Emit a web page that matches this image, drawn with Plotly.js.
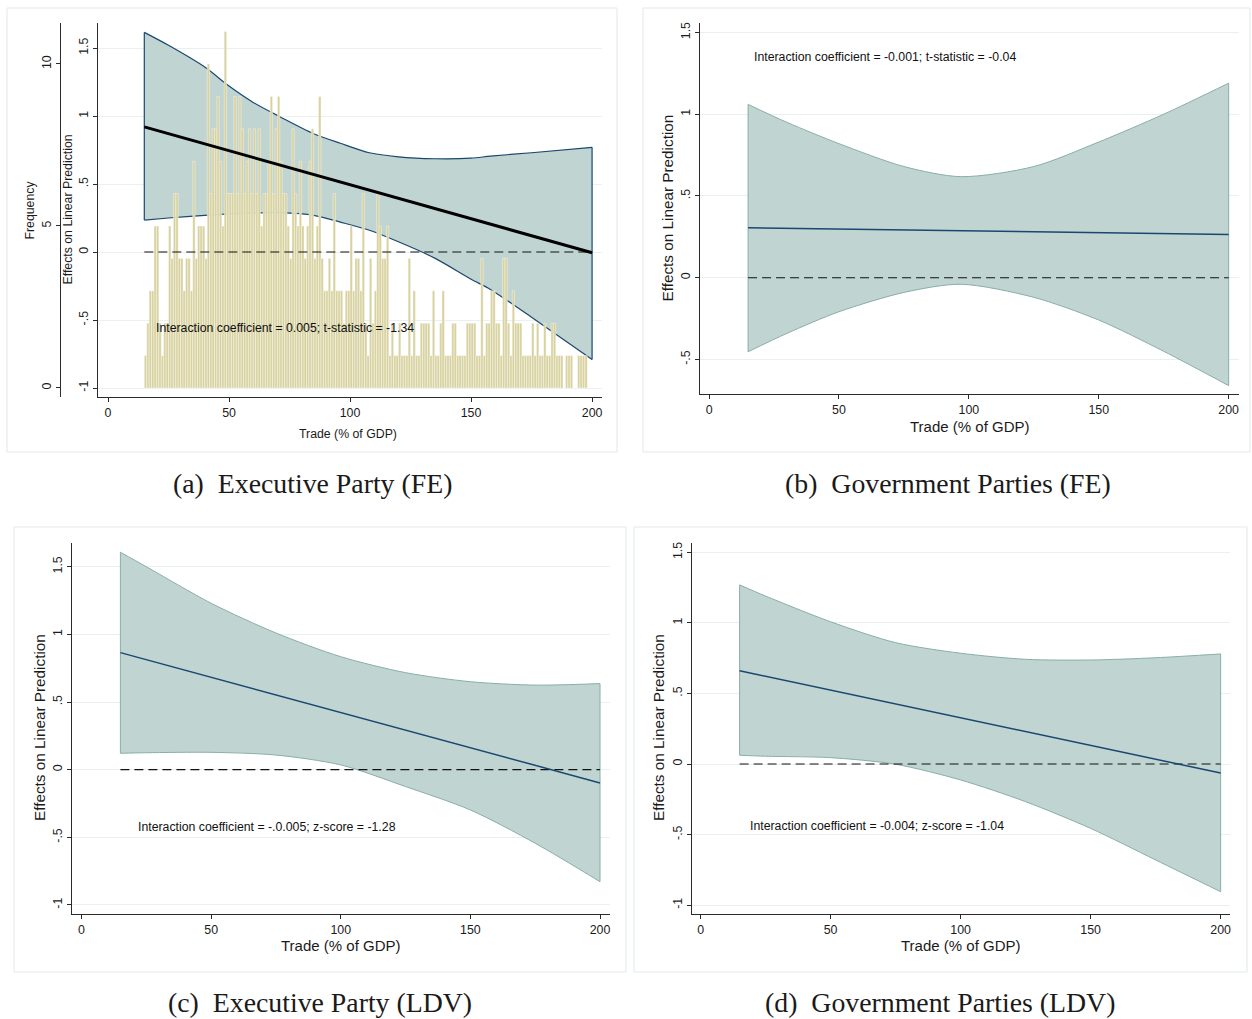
<!DOCTYPE html>
<html>
<head>
<meta charset="utf-8">
<script src="https://cdn.plot.ly/plotly-3.0.1.min.js"></script>
<style>html,body{margin:0;padding:0;background:#fff;}#chart{width:1252px;height:1019px;}</style>
</head>
<body>
<div id="chart"></div>
<script>
// ---------------- DATA ----------------
const xTickVals = [0, 50, 100, 150, 200];
const xTickText = ['0', '50', '100', '150', '200'];
const yTickVals = [-1, -0.5, 0, 0.5, 1, 1.5];
const yTickText = ['-1', '-.5', '0', '.5', '1', '1.5'];
const freqTickVals = [0, 5, 10];
const freqTickText = ['0', '5', '10'];

// Panel (a): Executive Party (FE)
const bandXA = [15, 25, 40, 50, 60, 71, 85, 96, 108, 120, 135, 150, 158, 175, 200];
const upperA = [1.615, 1.52, 1.36, 1.22, 1.10, 0.995, 0.87, 0.80, 0.73, 0.70, 0.686, 0.69, 0.705, 0.73, 0.77];
const lowerA = [0.235, 0.25, 0.27, 0.28, 0.287, 0.289, 0.27, 0.22, 0.16, 0.075, -0.045, -0.20, -0.275, -0.48, -0.79];
const lineXA = [15, 200];
const lineYA = [0.92, -0.005];
const noteA = 'Interaction coefficient = 0.005; t-statistic = -1.34';

// histogram of Trade (% of GDP): bin left edges (width 1) and frequencies
const histBinStart = [15,16,17,18,19,20,21,22,23,24,25,26,27,28,29,30,31,32,33,34,35,36,37,38,39,40,41,42,43,44,
45,46,47,48,49,50,51,52,53,54,55,56,57,58,59,60,61,62,63,64,65,66,67,68,69,70,71,72,73,74,
75,76,77,78,79,80,81,82,83,84,85,86,87,88,89,90,91,92,93,94,95,96,97,98,99,100,101,102,103,104,
105,106,107,108,109,110,111,112,113,114,115,116,117,118,119,120,121,122,123,124,125,126,127,128,129,130,131,132,133,134,
135,136,137,138,139,140,141,142,143,144,145,146,147,148,149,150,151,152,153,154,155,156,157,158,159,160,161,162,163,164,
165,166,167,168,169,170,171,172,173,174,175,176,177,178,179,180,181,182,183,184,185,186,187,188,189,190,191,192,193,194,
195,196,197];
const histFreq = [1,2,3,3,5,5,2,1,2,2, 5,4,6,6,4,4,3,4,4,3, 7,4,5,5,5,4,10,6,8,8,
9,7,5,11,6,6,6,9,6,9, 8,6,7,8,6,8,6,8,5,6, 6,7,9,6,8,9,7,6,6,5,
4,8,6,5,7,5,4,5,7,8, 4,5,9,4,3,3,4,3,6,3, 3,3,2,3,3,5,3,4,4,3,
6,2,1,4,2,3,6,5,4,4, 5,1,2,1,1,2,1,1,1,4, 1,3,1,1,2,2,2,2,1,3,
1,1,2,3,1,1,1,2,2,1, 1,1,1,2,2,2,2,1,1,4, 1,2,2,3,3,2,2,1,4,4,
2,1,3,2,2,2,1,1,1,1, 2,1,2,1,1,2,1,1,2,2, 1,1,1,0,1,1,1,0,0,1,
1,1,1];

// Panel (b): Government Parties (FE)
const bandXB = [15, 30, 50, 75, 97, 125, 150, 175, 200];
const upperB = [1.06, 0.95, 0.82, 0.68, 0.618, 0.68, 0.83, 1.00, 1.19];
const lowerB = [-0.453, -0.34, -0.208, -0.09, -0.04, -0.12, -0.259, -0.45, -0.66];
const lineXB = [15, 200];
const lineYB = [0.305, 0.265];
const noteB = 'Interaction coefficient = -0.001; t-statistic = -0.04';

// Panel (c): Executive Party (LDV)
const bandXC = [15, 25, 50, 75, 100, 125, 150, 175, 200];
const upperC = [1.607, 1.50, 1.23, 1.01, 0.835, 0.717, 0.65, 0.625, 0.636];
const lowerC = [0.121, 0.125, 0.128, 0.108, 0.035, -0.125, -0.298, -0.544, -0.828];
const lineXC = [15, 200];
const lineYC = [0.865, -0.098];
const noteC = 'Interaction coefficient = -.0.005; z-score = -1.28';

// Panel (d): Government Parties (LDV)
const bandXD = [15, 25, 50, 75, 100, 125, 150, 175, 200];
const upperD = [1.269, 1.19, 1.008, 0.86, 0.785, 0.742, 0.737, 0.753, 0.78];
const lowerD = [0.062, 0.055, 0.045, -0.002, -0.113, -0.267, -0.456, -0.68, -0.905];
const lineXD = [15, 200];
const lineYD = [0.661, -0.064];
const noteD = 'Interaction coefficient = -0.004; z-score = -1.04';

const refX = [15, 200];
const refY = [0, 0];

const captions = ['(a)\u00a0 Executive Party (FE)', '(b)\u00a0 Government Parties (FE)',
                  '(c)\u00a0 Executive Party (LDV)', '(d)\u00a0 Government Parties (LDV)'];
const xTitle = 'Trade (% of GDP)';
const yTitle = 'Effects on Linear Prediction';
const freqTitle = 'Frequency';

// ---------------- STYLE ----------------
const W = 1252, H = 1019;
const px = v => v / W;
const py = v => 1 - v / H;
const FONT = 'Liberation Sans, Arial, Helvetica, sans-serif';
const SERIF = 'Liberation Serif, Times New Roman, serif';
const BAND_FILL = 'rgb(192,212,210)';
const NAVY = 'rgb(26,71,111)';
const TEAL_EDGE = 'rgb(136,174,167)';
const HIST = 'rgb(216,210,160)';
const AXC = '#2b2b2b';
const GRID = 'rgb(232,240,242)';

function bandTraces(xs, up, lo, xa, ya, edge, edgeW) {
  const n = xs.length - 1;
  return [
    {x: xs, y: lo, xaxis: xa, yaxis: ya, type: 'scatter', mode: 'lines',
     line: {color: edge, width: edgeW, shape: 'spline', smoothing: 0.8}, hoverinfo: 'skip'},
    {x: xs, y: up, xaxis: xa, yaxis: ya, type: 'scatter', mode: 'lines', fill: 'tonexty',
     fillcolor: BAND_FILL, line: {color: edge, width: edgeW, shape: 'spline', smoothing: 0.8}, hoverinfo: 'skip'},
    {x: [xs[0], xs[0], null, xs[n], xs[n]], y: [lo[0], up[0], null, lo[n], up[n]],
     xaxis: xa, yaxis: ya, type: 'scatter', mode: 'lines',
     line: {color: edge, width: edgeW}, hoverinfo: 'skip'}
  ];
}
function refTrace(xa, ya) {
  return {x: refX, y: refY, xaxis: xa, yaxis: ya, type: 'scatter', mode: 'lines',
          line: {color: '#111', width: 1.1, dash: '9px,5px'}, hoverinfo: 'skip'};
}
function lineTrace(xs, ys, xa, ya, color, w) {
  return {x: xs, y: ys, xaxis: xa, yaxis: ya, type: 'scatter', mode: 'lines',
          line: {color: color, width: w}, hoverinfo: 'skip'};
}

const traces = [];
// (a)
traces.push(...bandTraces(bandXA, upperA, lowerA, 'x', 'y', NAVY, 1.2));
traces.push({type: 'bar', x: histBinStart, y: histFreq, offset: 0, width: 1, xaxis: 'x', yaxis: 'y2',
  marker: {color: HIST, line: {color: 'rgba(255,255,255,0.85)', width: 0.45}}, hoverinfo: 'skip'});
traces.push(refTrace('x', 'y3'));
traces.push(lineTrace(lineXA, lineYA, 'x', 'y3', '#000', 3));
// (b)
traces.push(...bandTraces(bandXB, upperB, lowerB, 'x2', 'y4', TEAL_EDGE, 1));
traces.push(refTrace('x2', 'y4'));
traces.push(lineTrace(lineXB, lineYB, 'x2', 'y4', NAVY, 1.5));
// (c)
traces.push(...bandTraces(bandXC, upperC, lowerC, 'x3', 'y5', TEAL_EDGE, 1));
traces.push(refTrace('x3', 'y5'));
traces.push(lineTrace(lineXC, lineYC, 'x3', 'y5', NAVY, 1.5));
// (d)
traces.push(...bandTraces(bandXD, upperD, lowerD, 'x4', 'y6', TEAL_EDGE, 1));
traces.push(refTrace('x4', 'y6'));
traces.push(lineTrace(lineXD, lineYD, 'x4', 'y6', NAVY, 1.5));

function xAxis(left, right, range, anchor) {
  return {domain: [px(left), px(right)], range: range, anchor: anchor,
    tickvals: xTickVals, ticktext: xTickText, ticks: 'outside', ticklen: 4, tickcolor: AXC, tickwidth: 1,
    showline: true, linecolor: AXC, linewidth: 1, showgrid: false, zeroline: false,
    tickfont: {family: FONT, size: 12.4, color: '#1a1a1a'}, fixedrange: true};
}
function yAxis(top, bottom, range, anchor) {
  return {domain: [py(bottom), py(top)], range: range, anchor: anchor,
    tickvals: yTickVals, ticktext: yTickText, tickangle: -90, ticks: 'outside', ticklen: 4, tickcolor: AXC, tickwidth: 1,
    showline: true, linecolor: AXC, linewidth: 1, showgrid: true, gridcolor: GRID, gridwidth: 1, zeroline: false,
    tickfont: {family: FONT, size: 12.4, color: '#1a1a1a'}, fixedrange: true};
}

const rangeYA = [-1.066, 1.684];
const layout = {
  width: W, height: H, margin: {l: 0, r: 0, t: 0, b: 0},
  paper_bgcolor: '#fff', plot_bgcolor: 'rgba(0,0,0,0)', showlegend: false,
  font: {family: FONT, color: '#1a1a1a'},
  bargap: 0,
  xaxis: xAxis(98, 602, [-4.13, 204.1], 'y'),
  yaxis: yAxis(23, 397, rangeYA, 'x'),
  yaxis2: {overlaying: 'y', anchor: 'free', position: px(60), side: 'left', range: [-0.278, 11.265],
    tickvals: freqTickVals, ticktext: freqTickText, tickangle: -90, ticks: 'outside', ticklen: 4, tickcolor: AXC,
    showline: true, linecolor: AXC, linewidth: 1, showgrid: false, zeroline: false,
    tickfont: {family: FONT, size: 12.4, color: '#1a1a1a'}, fixedrange: true},
  yaxis3: {overlaying: 'y', anchor: 'x', range: rangeYA, visible: false, showgrid: false, zeroline: false, fixedrange: true},
  xaxis2: xAxis(699.8, 1238.8, [-3.58, 203.9], 'y4'),
  yaxis4: yAxis(23.3, 394.3, [-0.713, 1.556], 'x2'),
  xaxis3: xAxis(71.5, 610.4, [-3.86, 204.0], 'y5'),
  yaxis5: yAxis(543.3, 914.3, [-1.069, 1.673], 'x3'),
  xaxis4: xAxis(691.5, 1230, [-3.5, 203.6], 'y6'),
  yaxis6: yAxis(543.3, 914.3, [-1.065, 1.564], 'x4'),
  shapes: [
    {type: 'rect', xref: 'paper', yref: 'paper', x0: px(7), x1: px(617), y0: py(452), y1: py(8), line: {color: '#e3e9ec', width: 1}, layer: 'below'},
    {type: 'rect', xref: 'paper', yref: 'paper', x0: px(643), x1: px(1250), y0: py(452), y1: py(8), line: {color: '#e3e9ec', width: 1}, layer: 'below'},
    {type: 'rect', xref: 'paper', yref: 'paper', x0: px(14), x1: px(626), y0: py(972), y1: py(527), line: {color: '#e3e9ec', width: 1}, layer: 'below'},
    {type: 'rect', xref: 'paper', yref: 'paper', x0: px(634), x1: px(1247), y0: py(972), y1: py(527), line: {color: '#e3e9ec', width: 1}, layer: 'below'}
  ],
  annotations: []
};

function ann(text, x, y, size, angle, family, xanchor) {
  return {text: text, xref: 'paper', yref: 'paper', x: px(x), y: py(y), showarrow: false,
    xanchor: xanchor || 'center', yanchor: 'middle', textangle: angle || 0,
    font: {family: family || FONT, size: size, color: '#1a1a1a'}};
}
const A = layout.annotations;
// axis titles
A.push(ann(freqTitle, 29.5, 210, 12.3, -90));
A.push(ann(yTitle, 67.5, 210, 12.3, -90));
A.push(ann(xTitle, 348, 434, 12.3, 0));
A.push(ann(yTitle, 666.5, 208, 15.3, -90));
A.push(ann(xTitle, 969, 426, 15, 0));
A.push(ann(yTitle, 39, 728, 15.3, -90));
A.push(ann(xTitle, 340.6, 945, 15, 0));
A.push(ann(yTitle, 658, 728, 15.3, -90));
A.push(ann(xTitle, 960.5, 945, 15, 0));
// notes (in data coordinates)
function note(text, xa, ya, x, y) {
  return {text: text, xref: xa, yref: ya, x: x, y: y, showarrow: false, xanchor: 'left', yanchor: 'middle',
    font: {family: FONT, size: 12.3, color: '#111'}};
}
A.push(note(noteA, 'x', 'y', 19.0, -0.559));
A.push(note(noteB, 'x2', 'y4', 16.5, 1.35));
A.push(note(noteC, 'x3', 'y5', 21.0, -0.424));
A.push(note(noteD, 'x4', 'y6', 18.2, -0.44));
// captions
A.push(ann(captions[0], 312, 483, 27.8, 0, SERIF));
A.push(ann(captions[1], 947.5, 483, 27.8, 0, SERIF));
A.push(ann(captions[2], 320, 1002, 27.8, 0, SERIF));
A.push(ann(captions[3], 940, 1002, 27.8, 0, SERIF));

Plotly.newPlot('chart', traces, layout, {displayModeBar: false, staticPlot: true});
</script>
</body>
</html>
